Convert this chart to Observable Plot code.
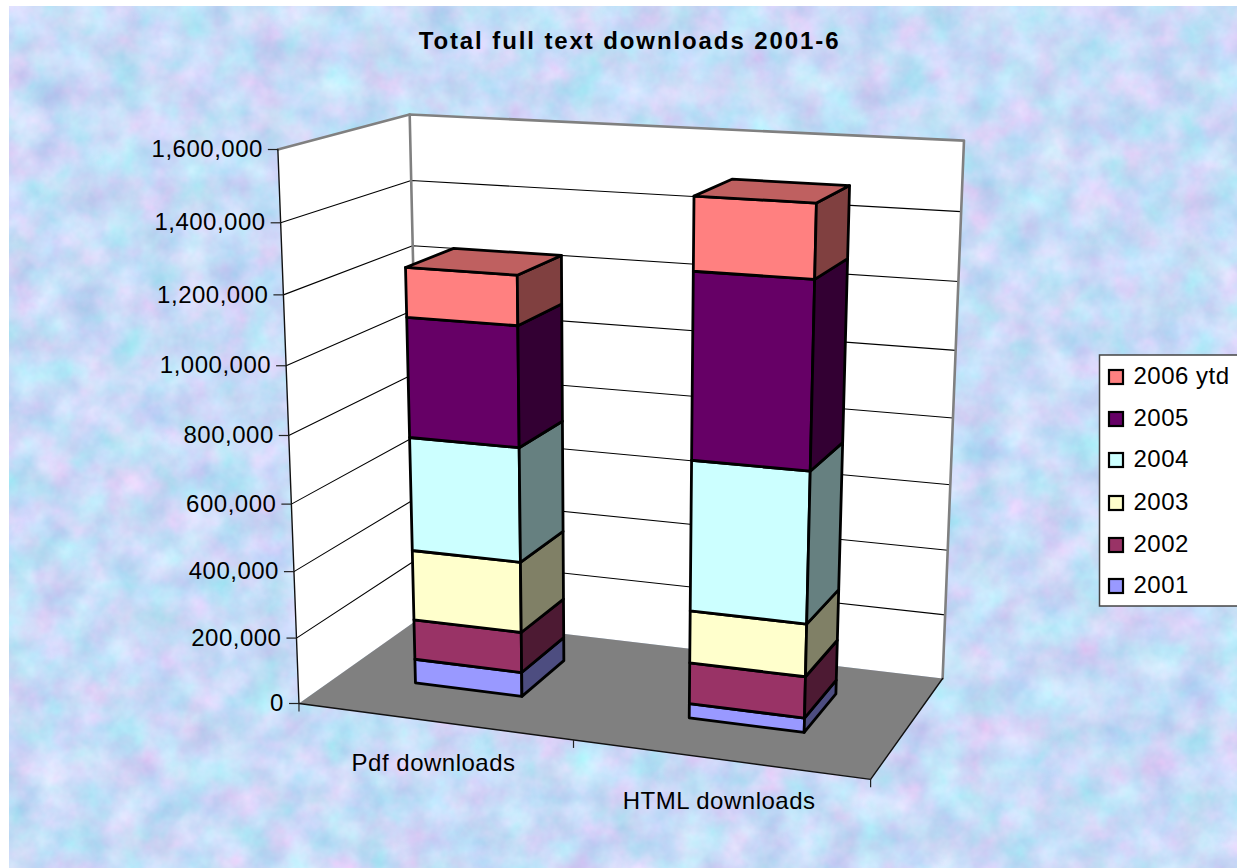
<!DOCTYPE html>
<html><head><meta charset="utf-8">
<script src="https://cdn.jsdelivr.net/npm/d3@7"></script>
<script src="https://cdn.jsdelivr.net/npm/@observablehq/plot@0.6"></script>
<style>
html,body{margin:0;padding:0;background:#fff}
svg{display:block}
.lab text{letter-spacing:.5px}
.ttl text{letter-spacing:1.9px}
</style></head><body><div id="chart"></div>
<script>
const years = ["2001","2002","2003","2004","2005","2006 ytd"];
const categories = ["Pdf downloads","HTML downloads"];
const pdfValues  = [74000,123000,213000,340000,352000,143000];
const htmlValues = [43000,123000,155000,439000,529000,204000];
const frontColors = ["#9999FF","#993366","#FFFFCC","#CCFFFF","#660066","#FF8080"];
const valueTicks = [0,200000,400000,600000,800000,1000000,1200000,1400000,1600000];
const tickFormat = d3.format(",");
const titleText = "Total full text downloads 2001-6";

// camera calibration: (category, value in millions, depth) -> picture position
const cameraAnchors = [
 [0,0,0,298.5,702],[0,1.6,0,277,149],[0,1.4,0,280,222],[0,1.2,0,283,295],
 [0,1.6,1,409,114],[0,1.4,1,411,180.5],[0,1.2,1,412.5,244.5],[0,0,1,420.5,617],
 [2,0,1,942,678],[2,1.6,1,964,141],[2,1.4,1,960.5,211],[2,1.2,1,957.5,280],
 [2,0,0,870,779],[1,0,0,573.5,740]
];
function solveCamera(pts){
  const A=[],b=[];
  for(const [u,v,d,x0,y0] of pts){
    const x=x0/1000,y=y0/1000;
    A.push([u,v,d,1,0,0,0,0,-x*u,-x*v,-x*d]);b.push(x);
    A.push([0,0,0,0,u,v,d,1,-y*u,-y*v,-y*d]);b.push(y);
  }
  const n=11,M=d3.range(n).map(i=>d3.range(n+1).map(j=>{
    let s=0;A.forEach((r,k)=>{s+=r[i]*(j<n?r[j]:b[k]);});return s;}));
  for(let i=0;i<n;i++){
    let p=i;for(let r=i+1;r<n;r++)if(Math.abs(M[r][i])>Math.abs(M[p][i]))p=r;
    [M[i],M[p]]=[M[p],M[i]];
    for(let r=0;r<n;r++)if(r!==i){const f=M[r][i]/M[i][i];for(let c=i;c<=n;c++)M[r][c]-=f*M[i][c];}
  }
  return M.map((r,i)=>r[n]/r[i]);
}
const C=solveCamera(cameraAnchors);
function project(u,value,d){
  const v=value/1e6,w=C[8]*u+C[9]*v+C[10]*d+1;
  return [1000*(C[0]*u+C[1]*v+C[2]*d+C[3])/w,1000*(C[4]*u+C[5]*v+C[6]*d+C[7])/w];
}
const face=(id,color,corners)=>corners.map(([u,v,d])=>{const [x,y]=project(u,v,d);return {id,color,x,y};});
const TOP=1600000;
const walls=[
 ...face("left","#ffffff",[[0,0,0],[0,TOP,0],[0,TOP,1],[0,0,1]]),
 ...face("back","#ffffff",[[0,0,1],[0,TOP,1],[2,TOP,1],[2,0,1]]),
 ...face("floor","#808080",[[0,0,0],[0,0,1],[2,0,1],[2,0,0]])
];
const frameGray=face("frame","#808080",[[0,TOP,0],[0,TOP,1],[2,TOP,1],[2,0,1]])
  .concat(face("frame2","#808080",[[0,TOP,1],[0,0,1]]));
const frameDark=face("a","#000",[[0,0,0],[0,TOP,0]]).concat(face("b","#000",[[0,0,0],[2,0,0],[2,0,1]]));
const grid=valueTicks.slice(1,-1).flatMap(t=>face("g"+t,"#000",[[0,t,0],[0,t,1],[2,t,1]]));

const barHalf=0.2,dFront=0.325,dBack=0.72;
const shade=(c,k)=>{const o=d3.rgb(c);return d3.rgb(o.r*k,o.g*k,o.b*k).formatHex();};
function barFaces(center,values,key){
  const ends=Array.from(d3.cumsum(values)),u0=center-barHalf,u1=center+barHalf,out=[];
  values.forEach((val,i)=>{
    const lo=ends[i]-val,hi=ends[i],c=frontColors[i];
    out.push(...face(`${key}f${i}`,c,[[u0,lo,dFront],[u1,lo,dFront],[u1,hi,dFront],[u0,hi,dFront]]));
    out.push(...face(`${key}s${i}`,shade(c,.5),[[u1,lo,dFront],[u1,lo,dBack],[u1,hi,dBack],[u1,hi,dFront]]));
    if(i===values.length-1)out.push(...face(`${key}t${i}`,shade(c,.75),[[u0,hi,dFront],[u1,hi,dFront],[u1,hi,dBack],[u0,hi,dBack]]));
  });
  return out;
}
const bars=[...barFaces(.485,pdfValues,"p"),...barFaces(1.49,htmlValues,"h")];
const vTicks=valueTicks.map(t=>{const [x,y]=project(0,t,0);return {t,x,y};});
const cTicks=[0,1,2].map(u=>{const [x,y]=project(u,0,0);return {x,y};});
const cLabels=categories.map((name,i)=>{const [x,y]=project(i+.5,0,0);return {name,x,y};});
const legendRowY=[377,419,460,503,545,586];
const legendRows=years.map((y,i)=>({label:y,color:frontColors[i]})).reverse();
legendRows.forEach((r,i)=>r.y=legendRowY[i]);

const textureMark=()=>{
  const g=d3.create("svg:g");
  const f=g.append("filter").attr("id","tex").attr("x",0).attr("y",0).attr("width","100%").attr("height","100%")
    .attr("color-interpolation-filters","sRGB");
  f.append("feTurbulence").attr("type","fractalNoise").attr("baseFrequency","0.028").attr("numOctaves",4).attr("seed",7);
  f.append("feColorMatrix").attr("values","0.24 -0.1 0.18 0 0.62  -0.04 0.15 0.15 0 0.73  0 0 0.1 0 0.92  0 0 0 0 1");
  g.append("rect").attr("x",9).attr("y",6).attr("width",1228).attr("height",862).attr("filter","url(#tex)");
  return g.node();
};
const sans="Liberation Sans, Arial, sans-serif";
const poly=(data,o={})=>Plot.line(data,{x:"x",y:"y",z:"id",curve:"linear-closed",...o});
const plot=Plot.plot({
  width:1237,height:868,margin:0,
  x:{domain:[0,1237],range:[0,1237],axis:null},
  y:{domain:[0,868],range:[0,868],axis:null},
  color:{type:"identity"},
  marks:[
    textureMark,
    poly(walls,{fill:"color",stroke:"none"}),
    Plot.line(grid,{x:"x",y:"y",z:"id",stroke:"#000",strokeWidth:1.1}),
    Plot.line(frameGray,{x:"x",y:"y",z:"id",stroke:"#808080",strokeWidth:2.6}),
    Plot.line(frameDark,{x:"x",y:"y",z:"id",stroke:"#111",strokeWidth:1.4}),
    Plot.link(vTicks,{x1:"x",y1:"y",x2:d=>d.x-10,y2:"y",stroke:"#222",strokeWidth:1.2}),
    Plot.link(cTicks,{x1:"x",y1:"y",x2:"x",y2:d=>d.y+8,stroke:"#222",strokeWidth:1.2}),
    poly(bars,{fill:"color",stroke:"#000",strokeWidth:2.8,strokeLinejoin:"round"}),
    Plot.text(vTicks,{x:d=>d.x-15,y:"y",text:d=>tickFormat(d.t),textAnchor:"end",fontSize:24,fontFamily:sans,fill:"#000",className:"lab"}),
    Plot.text(cLabels,{x:"x",y:d=>d.y+42,text:"name",fontSize:24,fontFamily:sans,fill:"#000",className:"lab"}),
    Plot.text([titleText],{x:()=>629,y:()=>41,text:d=>d,fontSize:24,fontWeight:"bold",fontFamily:sans,fill:"#000",className:"ttl"}),
    Plot.rect([0],{x1:()=>1099.5,x2:()=>1245,y1:()=>355,y2:()=>606,fill:"#fff",stroke:"#444",strokeWidth:1.5}),
    Plot.rect(legendRows,{x1:()=>1109,x2:()=>1123,y1:d=>d.y-7,y2:d=>d.y+7,fill:"color",stroke:"#000",strokeWidth:2.2}),
    Plot.text(legendRows,{x:()=>1133,y:d=>d.y-1,text:"label",textAnchor:"start",fontSize:24,fontFamily:sans,fill:"#000",className:"lab"})
  ]
});
document.getElementById("chart").append(plot);
</script></body></html>
